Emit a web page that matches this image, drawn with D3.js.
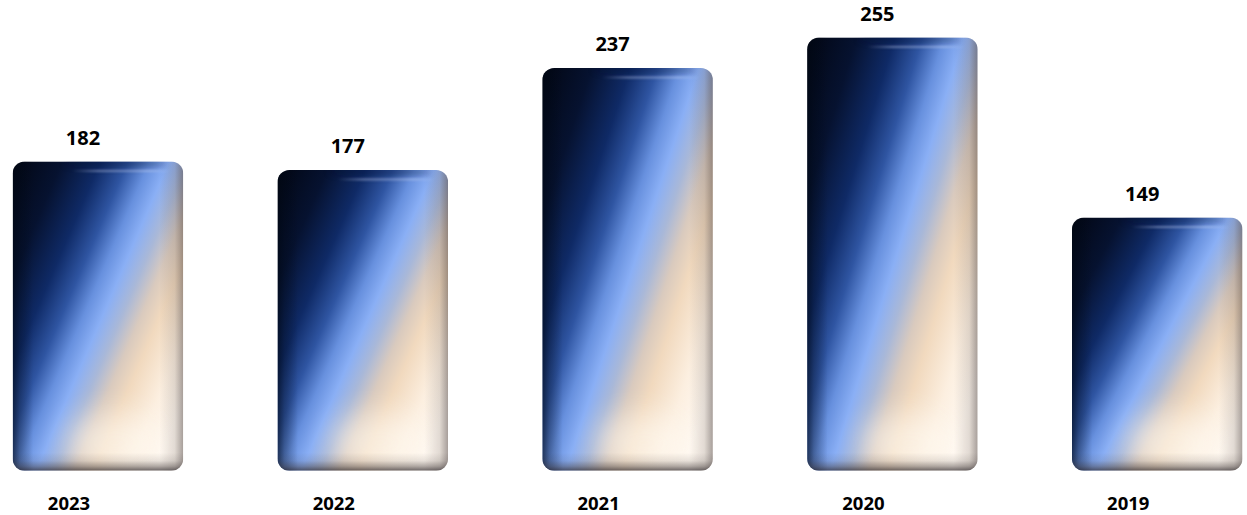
<!DOCTYPE html>
<html><head><meta charset="utf-8">
<script src="https://cdn.jsdelivr.net/npm/d3@7"></script>
<style>html,body{margin:0;padding:0;background:#fff;}svg{display:block;}</style>
</head><body>
<script>
const years = ["2023", "2022", "2021", "2020", "2019"];
const values = [182, 177, 237, 255, 149];

const W = 1247, H = 515;
const svg = d3.select("body").append("svg").attr("width", W).attr("height", H);

const x = d3.scaleBand().domain(years).range([12.7, 1242.5]).paddingInner(0.356).paddingOuter(0);
const y = d3.scaleLinear().domain([0, 255]).range([470.7, 37.4]);

const defs = svg.append("defs");
const diag = defs.append("linearGradient").attr("id", "diag")
  .attr("x1", 0).attr("y1", 0).attr("x2", 1).attr("y2", 0.78);
[[0, "#020612"], [0.18, "#061230"], [0.32, "#0f2a66"], [0.42, "#2f55a2"], [0.5, "#6790de"],
 [0.57, "#8aaff5"], [0.64, "#a9b8d8"], [0.71, "#d9cabe"], [0.78, "#f1d9be"], [0.9, "#fcefe0"], [1, "#fff8f0"]]
  .forEach(([o, c]) => diag.append("stop").attr("offset", o).attr("stop-color", c));

const side = defs.append("linearGradient").attr("id", "side").attr("x1", 0).attr("y1", 0).attr("x2", 1).attr("y2", 0);
[[0, "#000814", 0.6], [0.04, "#000814", 0.3], [0.12, "#000814", 0], [0.86, "#3a3030", 0], [0.95, "#3a3030", 0.15], [1, "#3a3030", 0.45]]
  .forEach(([o, c, a]) => side.append("stop").attr("offset", o).attr("stop-color", c).attr("stop-opacity", a));

const rim = defs.append("linearGradient").attr("id", "rim").attr("x1", 0).attr("y1", 0).attr("x2", 0).attr("y2", 1);
[[0, "#3a3232", 0], [0.45, "#3a3232", 0.12], [0.75, "#3a3232", 0.4], [1, "#2a2428", 0.7]]
  .forEach(([o, c, a]) => rim.append("stop").attr("offset", o).attr("stop-color", c).attr("stop-opacity", a));

const hl = defs.append("linearGradient").attr("id", "hl").attr("x1", 0).attr("y1", 0).attr("x2", 1).attr("y2", 0);
[[0, "#d8e4ff", 0], [0.35, "#d8e4ff", 0], [0.5, "#d8e4ff", 0.4], [0.8, "#d8e4ff", 0.4], [0.92, "#d8e4ff", 0]]
  .forEach(([o, c, a]) => hl.append("stop").attr("offset", o).attr("stop-color", c).attr("stop-opacity", a));

const blur = defs.append("filter").attr("id", "blur").attr("x", "-50%").attr("y", "-200%").attr("width", "200%").attr("height", "500%");
blur.append("feGaussianBlur").attr("stdDeviation", 3);
const blur2 = defs.append("filter").attr("id", "blur2").attr("x", "-50%").attr("y", "-200%").attr("width", "200%").attr("height", "500%");
blur2.append("feGaussianBlur").attr("stdDeviation", 0.8);
const blur3 = defs.append("filter").attr("id", "blur3").attr("x", "-50%").attr("y", "-50%").attr("width", "200%").attr("height", "200%");
blur3.append("feGaussianBlur").attr("stdDeviation", 14);

const data = years.map((yr, i) => ({ yr, v: values[i], i }));
const r = 12;

data.forEach(d => {
  defs.append("clipPath").attr("id", "clip" + d.i)
    .append("rect").attr("x", x(d.yr)).attr("y", y(d.v)).attr("width", x.bandwidth())
    .attr("height", y(0) - y(d.v)).attr("rx", r).attr("ry", r);
});

const g = svg.selectAll("g.bar").data(data).join("g").attr("class", "bar")
  .attr("clip-path", d => `url(#clip${d.i})`);

g.append("rect").attr("x", d => x(d.yr)).attr("y", d => y(d.v))
  .attr("width", x.bandwidth()).attr("height", d => y(0) - y(d.v)).attr("fill", "url(#diag)");
g.append("ellipse").attr("cx", d => x(d.yr) + x.bandwidth() * 0.6).attr("cy", d => y(0) - 28)
  .attr("rx", x.bandwidth() * 0.28).attr("ry", 30).attr("fill", "#fffaf2").attr("opacity", 0.55)
  .attr("filter", "url(#blur3)");
g.append("rect").attr("x", d => x(d.yr)).attr("y", d => y(d.v))
  .attr("width", x.bandwidth()).attr("height", d => y(0) - y(d.v)).attr("fill", "url(#side)");
g.append("rect").attr("x", d => x(d.yr)).attr("y", d => y(0) - 18)
  .attr("width", x.bandwidth()).attr("height", 18).attr("fill", "url(#rim)");
g.append("ellipse").attr("cx", d => x(d.yr) + x.bandwidth() * 0.6).attr("cy", d => y(d.v) + 2)
  .attr("rx", x.bandwidth() * 0.3).attr("ry", 5).attr("fill", "#061030").attr("opacity", 0.35)
  .attr("filter", "url(#blur)");
g.append("rect").attr("x", d => x(d.yr)).attr("y", d => y(d.v) + 8.5)
  .attr("width", x.bandwidth()).attr("height", 2).attr("fill", "url(#hl)").attr("filter", "url(#blur2)");

svg.selectAll("text.val").data(data).join("text").attr("class", "val")
  .attr("x", d => x(d.yr) + x.bandwidth() / 2 - 15)
  .attr("y", d => y(d.v) - 16.5)
  .attr("text-anchor", "middle")
  .attr("font-family", "'Open Sans', sans-serif").attr("font-weight", 700).attr("font-size", 20)
  .attr("fill", "#000").text(d => d.v);

svg.selectAll("text.yr").data(data).join("text").attr("class", "yr")
  .attr("x", d => x(d.yr) + x.bandwidth() / 2 - 29)
  .attr("y", 510)
  .attr("text-anchor", "middle")
  .attr("font-family", "'Open Sans', sans-serif").attr("font-weight", 700).attr("font-size", 18.5)
  .attr("fill", "#000").text(d => d.yr);
</script>
</body></html>
